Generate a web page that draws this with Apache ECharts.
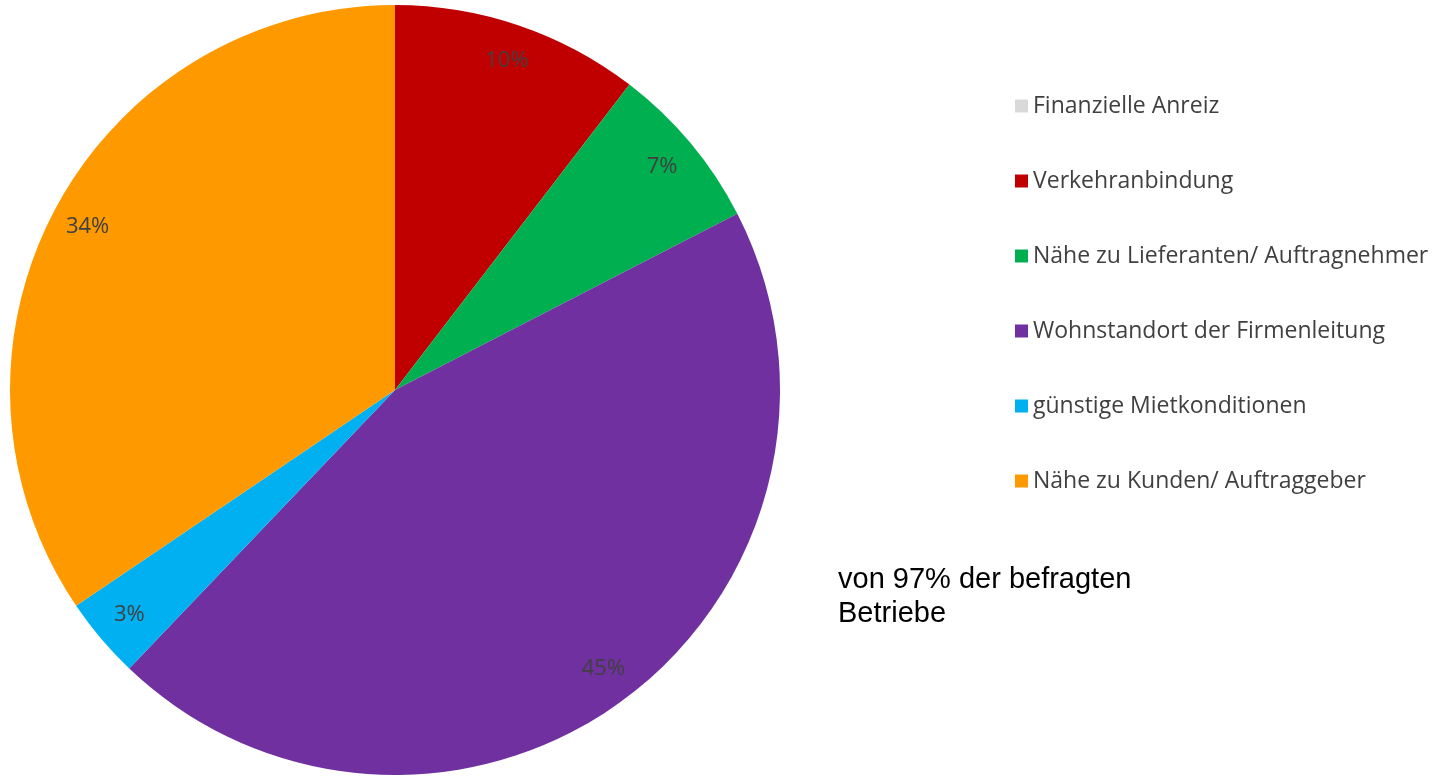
<!DOCTYPE html>
<html>
<head>
<meta charset="utf-8">
<script src="https://cdn.jsdelivr.net/npm/echarts@6/dist/echarts.min.js"></script>
<style>
html,body{margin:0;padding:0;background:#fff;}
#chart{width:1438px;height:777px;}
</style>
</head>
<body>
<div id="chart"></div>
<script>
var categories = ['Finanzielle Anreiz', 'Verkehranbindung', 'Nähe zu Lieferanten/ Auftragnehmer', 'Wohnstandort der Firmenleitung', 'günstige Mietkonditionen', 'Nähe zu Kunden/ Auftraggeber'];
var values = [0, 10.4, 7.0, 44.6, 3.4, 34.4];
var colors = ['#D9D9D9', '#C00000', '#00B050', '#7030A0', '#00B0F0', '#FF9900'];
var noteLines = ['von 97% der befragten', 'Betriebe'];

var data = categories.map(function (c, i) {
  return { name: c, value: values[i], itemStyle: { color: colors[i] } };
});
var labelData = categories.map(function (c, i) {
  return { name: c, value: values[i], itemStyle: { color: 'rgba(0,0,0,0)' } };
});

var chart = echarts.init(document.getElementById('chart'), null, { renderer: 'canvas' });
chart.setOption({
  animation: false,
  color: colors,
  legend: {
    orient: 'vertical',
    left: 1010,
    top: 89,
    icon: 'rect',
    itemWidth: 13,
    itemHeight: 13,
    itemGap: 51,
    data: categories,
    textStyle: { fontFamily: 'Open Sans', fontSize: 23, lineHeight: 24, color: '#404040' },
    selectedMode: false
  },
  graphic: [{
    type: 'text',
    left: 838,
    top: 563,
    style: {
      text: noteLines.join('\n'),
      font: '29px "Liberation Sans", Arial, sans-serif',
      lineHeight: 34,
      fill: '#000'
    }
  }],
  series: [{
    type: 'pie',
    center: [395, 390],
    radius: [0, 385],
    startAngle: 90,
    clockwise: true,
    silent: true,
    label: { show: false },
    labelLine: { show: false },
    itemStyle: { borderWidth: 0 },
    data: data
  }, {
    type: 'pie',
    center: [395, 390],
    radius: [305, 385],
    startAngle: 90,
    clockwise: true,
    silent: true,
    legendHoverLink: false,
    label: {
      show: true,
      position: 'inside',
      fontFamily: 'Open Sans',
      fontSize: 22,
      color: '#404040',
      formatter: function (p) { return p.value > 0 ? Math.round(p.value) + '%' : ''; }
    },
    labelLine: { show: false },
    itemStyle: { borderWidth: 0 },
    data: labelData
  }]
});
</script>
</body>
</html>
